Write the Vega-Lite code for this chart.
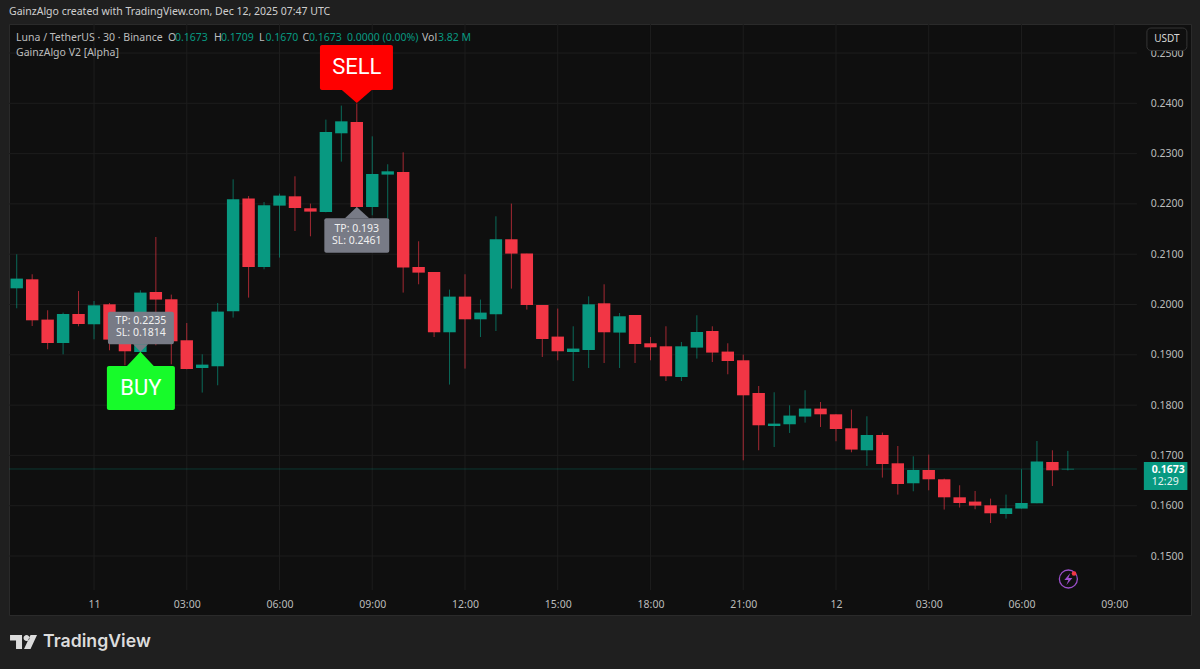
{"$schema":"https://vega.github.io/schema/vega-lite/v6.json","width":1182,"height":591,"autosize":{"type":"none"},"padding":{"left":9,"top":24,"right":9,"bottom":54},"background":"#1f1f1f","title":{"text":"GainzAlgo created with TradingView.com, Dec 12, 2025 07:47 UTC","anchor":"start","frame":"group","offset":6,"fontSize":10.5,"fontWeight":"normal","font":"Noto Sans","color":"#cfcfcf"},"config":{"view":{"fill":"#0f0f0f","stroke":"#2a2a2a"},"axisX":{"domain":false,"ticks":false,"grid":false,"labelPadding":-11,"labelBaseline":"middle","labelFont":"Noto Sans","labelFontSize":10.5,"labelColor":"#bcbcbc","labelOverlap":false,"labelFlush":false},"axisY":{"orient":"right","domain":false,"ticks":false,"grid":false,"labelPadding":-8,"labelAlign":"right","labelBaseline":"middle","labelFont":"Noto Sans","labelFontSize":10.5,"labelColor":"#bcbcbc","labelOverlap":false,"labelFlush":false}},
"encoding":{"x":{"field":"x","type":"temporal","title":null,"scale":{"type":"utc","padding":0,"domain":[{"year":2025,"month":12,"date":10,"hours":21,"minutes":15,"utc":true},{"year":2025,"month":12,"date":12,"hours":11,"minutes":29,"utc":true}]},"axis":{"values":[{"year":2025,"month":12,"date":11,"hours":0,"utc":true},{"year":2025,"month":12,"date":11,"hours":3,"utc":true},{"year":2025,"month":12,"date":11,"hours":6,"utc":true},{"year":2025,"month":12,"date":11,"hours":9,"utc":true},{"year":2025,"month":12,"date":11,"hours":12,"utc":true},{"year":2025,"month":12,"date":11,"hours":15,"utc":true},{"year":2025,"month":12,"date":11,"hours":18,"utc":true},{"year":2025,"month":12,"date":11,"hours":21,"utc":true},{"year":2025,"month":12,"date":12,"hours":0,"utc":true},{"year":2025,"month":12,"date":12,"hours":3,"utc":true},{"year":2025,"month":12,"date":12,"hours":6,"utc":true},{"year":2025,"month":12,"date":12,"hours":9,"utc":true}],"labelExpr":"utchours(datum.value)===0 ? utcFormat(datum.value,'%d') : utcFormat(datum.value,'%H:%M')"}},"y":{"field":"y","type":"quantitative","title":null,"scale":{"domain":[0.13827,0.25577]},"axis":{"values":[0.15,0.16,0.17,0.18,0.19,0.2,0.21,0.22,0.23,0.24,0.25],"format":".4f"}}},
"layer":[
{"data":{"values":[{"y":0.15,"x":"2025-12-10T21:15:00Z","x2":"2025-12-12T09:44:00Z"},{"y":0.16,"x":"2025-12-10T21:15:00Z","x2":"2025-12-12T09:44:00Z"},{"y":0.17,"x":"2025-12-10T21:15:00Z","x2":"2025-12-12T09:44:00Z"},{"y":0.18,"x":"2025-12-10T21:15:00Z","x2":"2025-12-12T09:44:00Z"},{"y":0.19,"x":"2025-12-10T21:15:00Z","x2":"2025-12-12T09:44:00Z"},{"y":0.2,"x":"2025-12-10T21:15:00Z","x2":"2025-12-12T09:44:00Z"},{"y":0.21,"x":"2025-12-10T21:15:00Z","x2":"2025-12-12T09:44:00Z"},{"y":0.22,"x":"2025-12-10T21:15:00Z","x2":"2025-12-12T09:44:00Z"},{"y":0.23,"x":"2025-12-10T21:15:00Z","x2":"2025-12-12T09:44:00Z"},{"y":0.24,"x":"2025-12-10T21:15:00Z","x2":"2025-12-12T09:44:00Z"},{"y":0.25,"x":"2025-12-10T21:15:00Z","x2":"2025-12-12T09:44:00Z"}],"format":{"parse":{"x":"date","x2":"date"}}},"mark":{"type":"rule","color":"#1d1d1d","strokeWidth":1},"encoding":{"x2":{"field":"x2"}}},
{"data":{"values":[{"x":"2025-12-11T00:00:00Z","y":0.14324,"y2":0.25577},{"x":"2025-12-11T03:00:00Z","y":0.14324,"y2":0.25577},{"x":"2025-12-11T06:00:00Z","y":0.14324,"y2":0.25577},{"x":"2025-12-11T09:00:00Z","y":0.14324,"y2":0.25577},{"x":"2025-12-11T12:00:00Z","y":0.14324,"y2":0.25577},{"x":"2025-12-11T15:00:00Z","y":0.14324,"y2":0.25577},{"x":"2025-12-11T18:00:00Z","y":0.14324,"y2":0.25577},{"x":"2025-12-11T21:00:00Z","y":0.14324,"y2":0.25577},{"x":"2025-12-12T00:00:00Z","y":0.14324,"y2":0.25577},{"x":"2025-12-12T03:00:00Z","y":0.14324,"y2":0.25577},{"x":"2025-12-12T06:00:00Z","y":0.14324,"y2":0.25577},{"x":"2025-12-12T09:00:00Z","y":0.14324,"y2":0.25577}],"format":{"parse":{"x":"date"}}},"mark":{"type":"rule","color":"#1d1d1d","strokeWidth":1},"encoding":{"y2":{"field":"y2"}}},
{"data":{"values":[{"y":0.1673,"x":"2025-12-10T21:15:00Z","x2":"2025-12-12T09:44:00Z"}],"format":{"parse":{"x":"date","x2":"date"}}},"mark":{"type":"rule","color":"#089981","opacity":0.3,"strokeWidth":1},"encoding":{"x2":{"field":"x2"}}},
{"data":{"name":"candles"},"mark":{"type":"rule","strokeWidth":1,"opacity":0.65},"encoding":{"y":{"field":"low","type":"quantitative","title":null,"scale":{"domain":[0.13827,0.25577]},"axis":{"values":[0.15,0.16,0.17,0.18,0.19,0.2,0.21,0.22,0.23,0.24,0.25],"format":".4f"}},"y2":{"field":"high"},"color":{"field":"k","type":"nominal","legend":null,"scale":{"domain":["up","down","sell","buy","tag"],"range":["#089981","#f23645","#ff0000","#17fb2a","#787b86"]}}}},
{"data":{"name":"candles"},"mark":{"type":"bar","size":12.4,"orient":"vertical"},"encoding":{"y":{"field":"open","type":"quantitative","title":null,"scale":{"domain":[0.13827,0.25577]},"axis":{"values":[0.15,0.16,0.17,0.18,0.19,0.2,0.21,0.22,0.23,0.24,0.25],"format":".4f"}},"y2":{"field":"close"},"color":{"field":"k","type":"nominal","legend":null,"scale":{"domain":["up","down","sell","buy","tag"],"range":["#089981","#f23645","#ff0000","#17fb2a","#787b86"]}}}},
{"data":{"values":[{"k":"sell","x":"2025-12-11T07:18:30Z","x2":"2025-12-11T09:40:10Z","y":0.24265,"y2":0.25159},{"k":"buy","x":"2025-12-11T00:25:00Z","x2":"2025-12-11T02:37:00Z","y":0.17903,"y2":0.18778},{"k":"tag","x":"2025-12-11T00:27:00Z","x2":"2025-12-11T02:35:00Z","y":0.19209,"y2":0.19857},{"k":"tag","x":"2025-12-11T07:27:00Z","x2":"2025-12-11T09:33:00Z","y":0.2103,"y2":0.21714}],"format":{"parse":{"x":"date","x2":"date"}}},"mark":{"type":"rect","cornerRadius":2},"encoding":{"x2":{"field":"x2"},"y2":{"field":"y2"},"color":{"field":"k","type":"nominal","legend":null,"scale":{"domain":["up","down","sell","buy","tag"],"range":["#089981","#f23645","#ff0000","#17fb2a","#787b86"]}}}},
{"data":{"values":[{"g":"a","k":"sell","x":"2025-12-11T08:01:00Z","y":0.24265,"y2":0.24265},{"g":"a","k":"sell","x":"2025-12-11T08:30:00Z","y":0.24006,"y2":0.24265},{"g":"a","k":"sell","x":"2025-12-11T08:59:00Z","y":0.24265,"y2":0.24265},{"g":"b","k":"buy","x":"2025-12-11T01:04:00Z","y":0.18778,"y2":0.18778},{"g":"b","k":"buy","x":"2025-12-11T01:30:00Z","y":0.18778,"y2":0.19062},{"g":"b","k":"buy","x":"2025-12-11T01:56:00Z","y":0.18778,"y2":0.18778},{"g":"c","k":"tag","x":"2025-12-11T01:16:00Z","y":0.19209,"y2":0.19209},{"g":"c","k":"tag","x":"2025-12-11T01:30:00Z","y":0.19062,"y2":0.19209},{"g":"c","k":"tag","x":"2025-12-11T01:45:00Z","y":0.19209,"y2":0.19209},{"g":"d","k":"tag","x":"2025-12-11T08:07:00Z","y":0.21714,"y2":0.21714},{"g":"d","k":"tag","x":"2025-12-11T08:30:00Z","y":0.21714,"y2":0.21939},{"g":"d","k":"tag","x":"2025-12-11T08:54:00Z","y":0.21714,"y2":0.21714}],"format":{"parse":{"x":"date"}}},"mark":{"type":"area","opacity":1},"encoding":{"y2":{"field":"y2"},"detail":{"field":"g"},"color":{"field":"k","type":"nominal","legend":null,"scale":{"domain":["up","down","sell","buy","tag"],"range":["#089981","#f23645","#ff0000","#17fb2a","#787b86"]}}}},
{"data":{"values":[{"x":"2025-12-11T08:30:00Z","y":0.24722,"s":"SELL"},{"x":"2025-12-11T01:31:00Z","y":0.1834,"s":"BUY"}]},"mark":{"type":"text","font":"Liberation Sans Narrow, Roboto","fontSize":22,"color":"#ffffff","baseline":"middle","align":"center"},"encoding":{"text":{"field":"s"}}},
{"data":{"values":[{"x":"2025-12-11T01:31:00Z","y":0.19672,"s":"TP: 0.2235"},{"x":"2025-12-11T01:31:00Z","y":0.19434,"s":"SL: 0.1814"},{"x":"2025-12-11T08:30:00Z","y":0.21501,"s":"TP: 0.193"},{"x":"2025-12-11T08:30:00Z","y":0.21263,"s":"SL: 0.2461"}]},"mark":{"type":"text","font":"Noto Sans","fontSize":10.5,"color":"#f0f0f0","baseline":"middle","align":"center"},"encoding":{"text":{"field":"s"}}},
{"data":{"values":[{"x":"2025-12-10T21:28:38Z","y":0.25308,"s":"Luna / TetherUS · 30 · Binance"},{"x":"2025-12-11T02:23:36Z","y":0.25308,"s":"O"},{"x":"2025-12-11T03:52:52Z","y":0.25308,"s":"H"},{"x":"2025-12-11T05:20:12Z","y":0.25308,"s":"L"},{"x":"2025-12-11T06:44:36Z","y":0.25308,"s":"C"},{"x":"2025-12-11T10:36:30Z","y":0.25308,"s":"Vol"},{"x":"2025-12-10T21:28:38Z","y":0.25,"s":"GainzAlgo V2 [Alpha]"}]},"mark":{"type":"text","font":"Noto Sans","fontSize":10.5,"color":"#bdbdbd","baseline":"middle","align":"left"},"encoding":{"text":{"field":"s"}}},
{"data":{"values":[{"x":"2025-12-11T02:37:12Z","y":0.25308,"s":"0.1673"},{"x":"2025-12-11T04:06:26Z","y":0.25308,"s":"0.1709"},{"x":"2025-12-11T05:32:48Z","y":0.25308,"s":"0.1670"},{"x":"2025-12-11T06:57:12Z","y":0.25308,"s":"0.1673"},{"x":"2025-12-11T08:11:00Z","y":0.25308,"s":"0.0000 (0.00%)"},{"x":"2025-12-11T11:07:30Z","y":0.25308,"s":"3.82 M"}]},"mark":{"type":"text","font":"Noto Sans","fontSize":10.5,"color":"#089981","baseline":"middle","align":"left"},"encoding":{"text":{"field":"s"}}},
{"data":{"values":[{"x":"2025-12-12T10:03:24Z","x2":"2025-12-12T11:21:00Z","y":0.2505,"y2":0.25497}],"format":{"parse":{"x":"date","x2":"date"}}},"mark":{"type":"rect","fill":"#0f0f0f","stroke":"#363636","strokeWidth":1,"cornerRadius":4},"encoding":{"x2":{"field":"x2"},"y2":{"field":"y2"}}},
{"data":{"values":[{"x":"2025-12-12T10:42:12Z","y":0.25288,"s":"USDT"}]},"mark":{"type":"text","font":"Noto Sans","fontSize":10,"color":"#d8d8d8","baseline":"middle","align":"center"},"encoding":{"text":{"field":"s"}}},
{"data":{"values":[{"x":"2025-12-12T09:57:30Z","x2":"2025-12-12T11:22:00Z","y":0.16312,"y2":0.16869}],"format":{"parse":{"x":"date","x2":"date"}}},"mark":{"type":"rect","fill":"#089981"},"encoding":{"x2":{"field":"x2"},"y2":{"field":"y2"}}},
{"data":{"values":[{"x":"2025-12-12T10:13:00Z","y":0.167,"s":"0.1673"}]},"mark":{"type":"text","font":"Noto Sans","fontSize":10.5,"fontWeight":"bold","color":"#ffffff","baseline":"middle","align":"left"},"encoding":{"text":{"field":"s"}}},
{"data":{"values":[{"x":"2025-12-12T10:13:00Z","y":0.16462,"s":"12:29"}]},"mark":{"type":"text","font":"Noto Sans","fontSize":10.5,"color":"#e6f5f2","baseline":"middle","align":"left"},"encoding":{"text":{"field":"s"}}},
{"data":{"values":[{"x":"2025-12-10T21:43:12Z","y":0.13291}]},"mark":{"type":"point","shape":"M-13.5,-7 H-1.5 V7 H-7.5 V-1.5 H-13.5 Z M0,-4 a3,3 0 1,0 6,0 a3,3 0 1,0 -6,0 Z M7,-7 H13.5 L7,7 H0.5 Z","size":4,"filled":true,"opacity":1,"color":"#dcdcdc"}},
{"data":{"values":[{"x":"2025-12-10T22:21:00Z","y":0.13291,"s":"TradingView"}]},"mark":{"type":"text","font":"Inter","fontSize":17.7,"fontWeight":600,"color":"#dcdcdc","baseline":"middle","align":"left"},"encoding":{"text":{"field":"s"}}},
{"data":{"values":[{"x":"2025-12-12T07:31:00Z","y":0.14543}]},"mark":{"type":"point","shape":"circle","size":324,"filled":false,"opacity":1,"stroke":"#9a4ec9","strokeWidth":1.3}},
{"data":{"values":[{"x":"2025-12-12T07:31:00Z","y":0.14543}]},"mark":{"type":"point","shape":"M2,-6 L-4,1 H0 L-2,6 L4,-1 H0 Z","size":4,"filled":true,"opacity":1,"color":"#a04fd0"}},
{"data":{"values":[{"x":"2025-12-12T07:42:00Z","y":0.14652}]},"mark":{"type":"point","shape":"circle","size":22,"filled":true,"opacity":1,"color":"#f23645"}}
],
"datasets":{"candles":[
{"x":"2025-12-10T21:30:00Z","k":"up","open":0.20322,"close":0.20515,"high":0.20998,"low":0.19925},
{"x":"2025-12-10T22:00:00Z","k":"down","open":0.20501,"close":0.19686,"high":0.20601,"low":0.19573},
{"x":"2025-12-10T22:30:00Z","k":"down","open":0.197,"close":0.19235,"high":0.19885,"low":0.1911},
{"x":"2025-12-10T23:00:00Z","k":"up","open":0.19235,"close":0.19811,"high":0.19839,"low":0.1901},
{"x":"2025-12-10T23:30:00Z","k":"down","open":0.19811,"close":0.19613,"high":0.20269,"low":0.19567},
{"x":"2025-12-11T00:00:00Z","k":"up","open":0.19607,"close":0.19984,"high":0.2007,"low":0.19308},
{"x":"2025-12-11T00:30:00Z","k":"down","open":0.20004,"close":0.19302,"high":0.2003,"low":0.1909},
{"x":"2025-12-11T01:00:00Z","k":"down","open":0.19308,"close":0.1907,"high":0.19487,"low":0.18792},
{"x":"2025-12-11T01:30:00Z","k":"up","open":0.19056,"close":0.20237,"high":0.20283,"low":0.1903},
{"x":"2025-12-11T02:00:00Z","k":"down","open":0.20249,"close":0.20098,"high":0.21342,"low":0.19189},
{"x":"2025-12-11T02:30:00Z","k":"down","open":0.20104,"close":0.19269,"high":0.20197,"low":0.18811},
{"x":"2025-12-11T03:00:00Z","k":"down","open":0.19289,"close":0.18718,"high":0.19632,"low":0.18712},
{"x":"2025-12-11T03:30:00Z","k":"up","open":0.18738,"close":0.18805,"high":0.1901,"low":0.18249},
{"x":"2025-12-11T04:00:00Z","k":"up","open":0.18772,"close":0.19859,"high":0.2003,"low":0.18394},
{"x":"2025-12-11T04:30:00Z","k":"up","open":0.19865,"close":0.22092,"high":0.22489,"low":0.1974},
{"x":"2025-12-11T05:00:00Z","k":"down","open":0.22106,"close":0.20746,"high":0.22157,"low":0.20137},
{"x":"2025-12-11T05:30:00Z","k":"up","open":0.20746,"close":0.21972,"high":0.22038,"low":0.207},
{"x":"2025-12-11T06:00:00Z","k":"up","open":0.21966,"close":0.22165,"high":0.22205,"low":0.20933},
{"x":"2025-12-11T06:30:00Z","k":"down","open":0.22151,"close":0.21919,"high":0.22549,"low":0.21461},
{"x":"2025-12-11T07:00:00Z","k":"down","open":0.21913,"close":0.21847,"high":0.22006,"low":0.21356},
{"x":"2025-12-11T07:30:00Z","k":"up","open":0.21839,"close":0.2343,"high":0.23676,"low":0.21833},
{"x":"2025-12-11T08:00:00Z","k":"up","open":0.23404,"close":0.23642,"high":0.23955,"low":0.22841},
{"x":"2025-12-11T08:30:00Z","k":"down","open":0.23629,"close":0.21939,"high":0.23994,"low":0.21774},
{"x":"2025-12-11T09:00:00Z","k":"up","open":0.21939,"close":0.22595,"high":0.23344,"low":0.21774},
{"x":"2025-12-11T09:30:00Z","k":"up","open":0.22583,"close":0.22648,"high":0.22788,"low":0.21714},
{"x":"2025-12-11T10:00:00Z","k":"down","open":0.22634,"close":0.20734,"high":0.23026,"low":0.20237},
{"x":"2025-12-11T10:30:00Z","k":"down","open":0.20746,"close":0.20634,"high":0.21257,"low":0.20402},
{"x":"2025-12-11T11:00:00Z","k":"down","open":0.20646,"close":0.19448,"high":0.20646,"low":0.19354},
{"x":"2025-12-11T11:30:00Z","k":"up","open":0.19448,"close":0.20157,"high":0.20296,"low":0.18408},
{"x":"2025-12-11T12:00:00Z","k":"down","open":0.20157,"close":0.19706,"high":0.20601,"low":0.18726},
{"x":"2025-12-11T12:30:00Z","k":"up","open":0.19706,"close":0.19839,"high":0.20098,"low":0.19354},
{"x":"2025-12-11T13:00:00Z","k":"up","open":0.19805,"close":0.21297,"high":0.21754,"low":0.19473},
{"x":"2025-12-11T13:30:00Z","k":"down","open":0.21297,"close":0.21012,"high":0.22006,"low":0.20316},
{"x":"2025-12-11T14:00:00Z","k":"down","open":0.21012,"close":0.1999,"high":0.21012,"low":0.19899},
{"x":"2025-12-11T14:30:00Z","k":"down","open":0.1999,"close":0.19314,"high":0.1999,"low":0.18957},
{"x":"2025-12-11T15:00:00Z","k":"down","open":0.19362,"close":0.1907,"high":0.19919,"low":0.18891},
{"x":"2025-12-11T15:30:00Z","k":"up","open":0.19056,"close":0.19124,"high":0.19567,"low":0.18479},
{"x":"2025-12-11T16:00:00Z","k":"up","open":0.19096,"close":0.20004,"high":0.20163,"low":0.18738},
{"x":"2025-12-11T16:30:00Z","k":"down","open":0.20024,"close":0.19448,"high":0.20402,"low":0.18837},
{"x":"2025-12-11T17:00:00Z","k":"up","open":0.19442,"close":0.19766,"high":0.19831,"low":0.18738},
{"x":"2025-12-11T17:30:00Z","k":"down","open":0.19792,"close":0.19215,"high":0.19792,"low":0.18837},
{"x":"2025-12-11T18:00:00Z","k":"down","open":0.19229,"close":0.19149,"high":0.19354,"low":0.18891},
{"x":"2025-12-11T18:30:00Z","k":"down","open":0.19169,"close":0.18573,"high":0.19567,"low":0.18479},
{"x":"2025-12-11T19:00:00Z","k":"up","open":0.18559,"close":0.19169,"high":0.19255,"low":0.18479},
{"x":"2025-12-11T19:30:00Z","k":"up","open":0.19143,"close":0.19454,"high":0.19786,"low":0.18925},
{"x":"2025-12-11T20:00:00Z","k":"down","open":0.19473,"close":0.19044,"high":0.19567,"low":0.18857},
{"x":"2025-12-11T20:30:00Z","k":"down","open":0.19064,"close":0.18877,"high":0.19229,"low":0.18613},
{"x":"2025-12-11T21:00:00Z","k":"down","open":0.18891,"close":0.18195,"high":0.19004,"low":0.16903},
{"x":"2025-12-11T21:30:00Z","k":"down","open":0.18241,"close":0.17599,"high":0.1838,"low":0.17102},
{"x":"2025-12-11T22:00:00Z","k":"up","open":0.17585,"close":0.17632,"high":0.18255,"low":0.17167},
{"x":"2025-12-11T22:30:00Z","k":"up","open":0.17619,"close":0.17792,"high":0.17996,"low":0.17446},
{"x":"2025-12-11T23:00:00Z","k":"up","open":0.17772,"close":0.17931,"high":0.18295,"low":0.17652},
{"x":"2025-12-11T23:30:00Z","k":"down","open":0.17931,"close":0.17817,"high":0.18062,"low":0.17565},
{"x":"2025-12-12T00:00:00Z","k":"down","open":0.17817,"close":0.17525,"high":0.17817,"low":0.17281},
{"x":"2025-12-12T00:30:00Z","k":"down","open":0.17539,"close":0.17116,"high":0.17911,"low":0.17062},
{"x":"2025-12-12T01:00:00Z","k":"up","open":0.17102,"close":0.17406,"high":0.17778,"low":0.1679},
{"x":"2025-12-12T01:30:00Z","k":"down","open":0.17406,"close":0.16829,"high":0.17454,"low":0.16559},
{"x":"2025-12-12T02:00:00Z","k":"down","open":0.16843,"close":0.16432,"high":0.17187,"low":0.16221},
{"x":"2025-12-12T02:30:00Z","k":"up","open":0.16446,"close":0.1671,"high":0.16982,"low":0.16287},
{"x":"2025-12-12T03:00:00Z","k":"down","open":0.1671,"close":0.16525,"high":0.17016,"low":0.16306},
{"x":"2025-12-12T03:30:00Z","k":"down","open":0.16525,"close":0.16167,"high":0.16539,"low":0.15923},
{"x":"2025-12-12T04:00:00Z","k":"down","open":0.16167,"close":0.16054,"high":0.16406,"low":0.15963},
{"x":"2025-12-12T04:30:00Z","k":"down","open":0.16082,"close":0.16002,"high":0.16293,"low":0.15929},
{"x":"2025-12-12T05:00:00Z","k":"down","open":0.16008,"close":0.15849,"high":0.16141,"low":0.15656},
{"x":"2025-12-12T05:30:00Z","k":"up","open":0.15835,"close":0.15949,"high":0.16221,"low":0.15744},
{"x":"2025-12-12T06:00:00Z","k":"up","open":0.15943,"close":0.16054,"high":0.16724,"low":0.15943},
{"x":"2025-12-12T06:30:00Z","k":"up","open":0.16048,"close":0.16877,"high":0.17287,"low":0.16048},
{"x":"2025-12-12T07:00:00Z","k":"down","open":0.16869,"close":0.16704,"high":0.17102,"low":0.16392},
{"x":"2025-12-12T07:30:00Z","k":"up","open":0.16722,"close":0.16733,"high":0.1709,"low":0.167}
]}}
